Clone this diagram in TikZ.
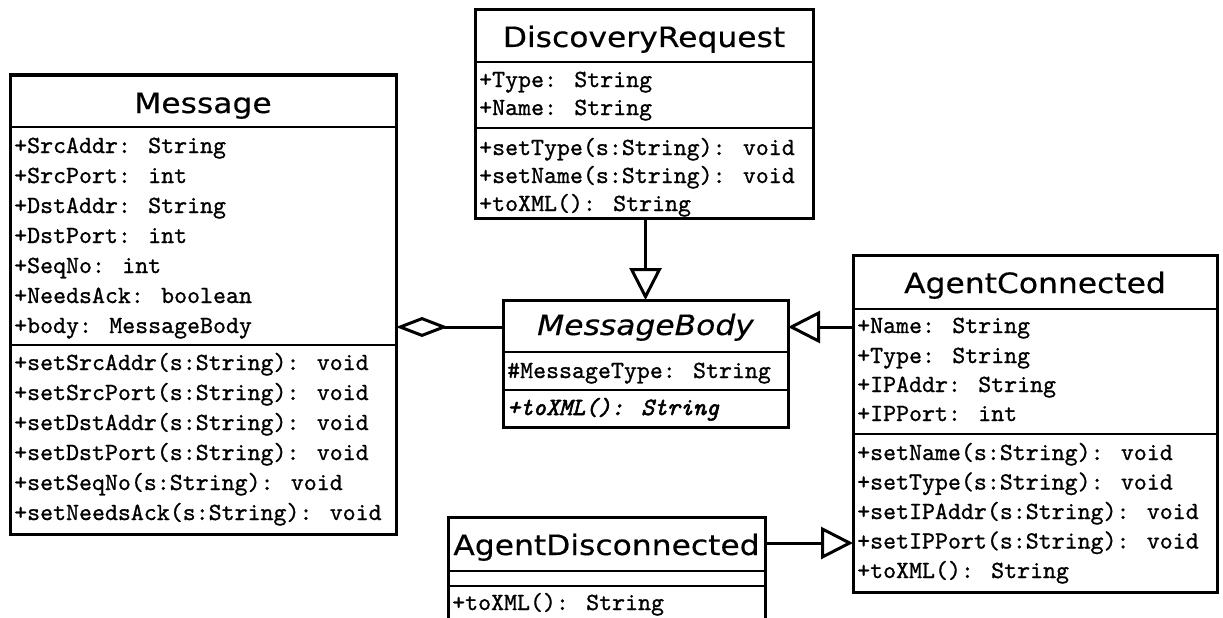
\documentclass[tikz,border=0pt]{standalone}
\usepackage{fontspec}
\usetikzlibrary{arrows.meta}
\newfontfamily\ttlfont[FakeStretch=1.12,FakeBold=0.4]{DejaVu Sans}
\newfontfamily\monofont{lmmono10-regular.otf}[FakeBold=0.9]
\newfontfamily\monobifont{lmmono10-italic.otf}[FakeBold=2.2]
\begin{document}
\begin{tikzpicture}[x=1pt,y=-1pt,
  classbox/.style={draw, line width=3pt, inner sep=0pt, outer sep=0pt, anchor=north west, fill=white},
  sepline/.style={line width=2.5pt},
  titletext/.style={font=\ttlfont\fontsize{28}{30}\selectfont, anchor=base, inner sep=0pt},
  rowtext/.style={font=\monofont\fontsize{24.7}{30}\selectfont, anchor=base west, inner sep=0pt},
  gen/.style={line width=3pt, -{Triangle[open, length=32pt, width=32pt]}},
  agg/.style={line width=3pt, -{Diamond[open, length=52pt, width=20pt]}},
]
\useasboundingbox[fill=white] (0,0) rectangle (1223,618);

% ---------- Message ----------
\node[classbox, minimum width=386pt, minimum height=459pt] (msg) at (10,75) {};
\draw[sepline] (10,127) -- (396,127);
\draw[sepline] (10,345) -- (396,345);
\node[titletext] (msgT) at (203,113) {Message};
\node[rowtext] (m1) at (14,153) {+SrcAddr: String};
\node[rowtext] (m2) at (14,183) {+SrcPort: int};
\node[rowtext] (m3) at (14,213) {+DstAddr: String};
\node[rowtext] (m4) at (14,243) {+DstPort: int};
\node[rowtext] (m5) at (14,273) {+SeqNo: int};
\node[rowtext] (m6) at (14,303) {+NeedsAck: boolean};
\node[rowtext] (m7) at (14,333) {+body: MessageBody};
\node[rowtext] (m8) at (14,370) {+setSrcAddr(s:String): void};
\node[rowtext] (m9) at (14,400) {+setSrcPort(s:String): void};
\node[rowtext] (m10) at (14,430) {+setDstAddr(s:String): void};
\node[rowtext] (m11) at (14,460) {+setDstPort(s:String): void};
\node[rowtext] (m12) at (14,490) {+setSeqNo(s:String): void};
\node[rowtext] (m13) at (14,520) {+setNeedsAck(s:String): void};

% ---------- DiscoveryRequest ----------
\node[classbox, minimum width=338pt, minimum height=208pt] (dr) at (475,10) {};
\draw[sepline] (475,62) -- (813,62);
\draw[sepline] (475,128) -- (813,128);
\node[titletext] (drT) at (644,47) {DiscoveryRequest};
\node[rowtext] (d1) at (479,87) {+Type: String};
\node[rowtext] (d2) at (479,115) {+Name: String};
\node[rowtext] (d3) at (479,155) {+setType(s:String): void};
\node[rowtext] (d4) at (479,183) {+setName(s:String): void};
\node[rowtext] (d5) at (479,211) {+toXML(): String};

% ---------- MessageBody ----------
\node[classbox, minimum width=285pt, minimum height=127pt] (mb) at (503,300) {};
\draw[sepline] (503,352) -- (788,352);
\draw[sepline] (503,390) -- (788,390);
\node[titletext, font=\ttlfont\itshape\fontsize{28}{30}\selectfont] (mbT) at (645.5,335) {MessageBody};
\node[rowtext] (b1) at (507,378) {\#MessageType: String};
\node[rowtext, font=\monobifont\fontsize{24.7}{30}\selectfont] (b2) at (507,415) {+toXML(): String};

% ---------- AgentConnected ----------
\node[classbox, minimum width=364pt, minimum height=337pt] (ac) at (853,255) {};
\draw[sepline] (853,309) -- (1217,309);
\draw[sepline] (853,434) -- (1217,434);
\node[titletext] (acT) at (1035,293) {AgentConnected};
\node[rowtext] (a1) at (857,333) {+Name: String};
\node[rowtext] (a2) at (857,363) {+Type: String};
\node[rowtext] (a3) at (857,392) {+IPAddr: String};
\node[rowtext] (a4) at (857,421) {+IPPort: int};
\node[rowtext] (a5) at (857,460) {+setName(s:String): void};
\node[rowtext] (a6) at (857,489.5) {+setType(s:String): void};
\node[rowtext] (a7) at (857,519) {+setIPAddr(s:String): void};
\node[rowtext] (a8) at (857,548.5) {+setIPPort(s:String): void};
\node[rowtext] (a9) at (857,578) {+toXML(): String};

% ---------- AgentDisconnected ----------
\node[classbox, minimum width=317pt, minimum height=140pt] (ad) at (448,517) {};
\draw[sepline] (448,571) -- (765,571);
\draw[sepline] (448,586) -- (765,586);
\node[titletext] (adT) at (606.5,555) {AgentDisconnected};
\node[rowtext] (e1) at (452,610) {+toXML(): String};

% ---------- connectors ----------
\coordinate (mbt) at ([yshift=-27pt]mb.north west);
\draw[agg] (mbt) -- (mbt -| msg.east);
\draw[gen] (mb.north |- dr.south) -- (mb.north);
\coordinate (act) at ([yshift=-72pt]ac.north west);
\draw[gen] (act) -- (act -| mb.east);
\coordinate (adt) at ([yshift=-26pt]ad.north east);
\draw[gen] (adt) -- (adt -| ac.west);
\end{tikzpicture}
\end{document}
